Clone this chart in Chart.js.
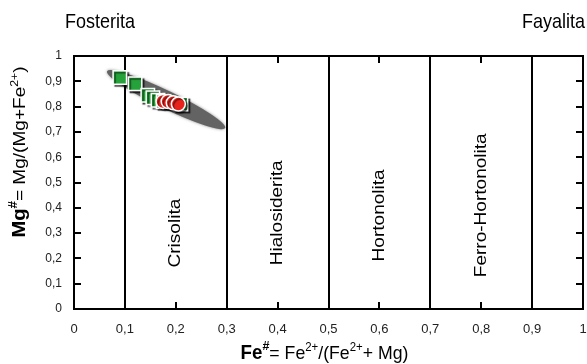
<!DOCTYPE html>
<html>
<head>
<meta charset="utf-8">
<script src="https://cdn.jsdelivr.net/npm/chart.js@4"></script>
<style>
  html, body { margin: 0; padding: 0; background: #fff; overflow: hidden; }
  #wrap { width: 587px; height: 364px; overflow: hidden; }
</style>
</head>
<body>
<!-- canvas is a little wider than the page so the plot box reaches the right edge
     and the last "1" is clipped, like the reference -->
<div id="wrap"><canvas id="c" width="594" height="364"></canvas></div>
<script>
// Olivine classification diagram: Mg# vs Fe#

const xTicks = [0, 0.1, 0.2, 0.3, 0.4, 0.5, 0.6, 0.7, 0.8, 0.9, 1];
const xTickLabels = ["0", "0,1", "0,2", "0,3", "0,4", "0,5", "0,6", "0,7", "0,8", "0,9", "1"];
const yTicks = [0, 0.1, 0.2, 0.3, 0.4, 0.5, 0.6, 0.7, 0.8, 0.9, 1];
const yTickLabels = ["0", "0,1", "0,2", "0,3", "0,4", "0,5", "0,6", "0,7", "0,8", "0,9", "1"];

// field boundaries (full-height vertical lines)
const boundaries = [0.1, 0.3, 0.5, 0.7, 0.9];
const zoneNames = ["Crisolita", "Hialosiderita", "Hortonolita", "Ferro-Hortonolita"];
const zoneX = [0.2, 0.4, 0.6, 0.8];
const zoneY = [0.3, 0.38, 0.37, 0.41];

// samples
const squareFe = [0.09, 0.12, 0.145, 0.155, 0.165, 0.175, 0.21];
const squareMg = [0.915, 0.89, 0.845, 0.835, 0.825, 0.82, 0.81];
const circleFe = [0.175, 0.185, 0.195, 0.205];
const circleMg = [0.82, 0.82, 0.815, 0.81];

// gray field ellipse: long-axis end points in data units
const ellipseStart = [0.065, 0.94];
const ellipseEnd = [0.297, 0.715];

const FONT = "'Liberation Sans', Arial, sans-serif";
const STRETCH = 1.12; // the original figure is slightly stretched vertically

function pts(xs, ys) { return xs.map((x, i) => ({ x, y: ys[i] })); }

// shadow behind markers
const markerShadow = {
  id: "markerShadow",
  beforeDatasetDraw(chart) {
    const ctx = chart.ctx;
    ctx.save();
    ctx.shadowColor = "rgba(0,0,0,0.5)";
    ctx.shadowOffsetX = 2;
    ctx.shadowOffsetY = 2;
    ctx.shadowBlur = 1;
  },
  afterDatasetDraw(chart) { chart.ctx.restore(); },
};

// frame: ellipse, field lines, inward ticks, box, zone names
const frame = {
  id: "frame",
  beforeDatasetsDraw(chart) {
    const { ctx, chartArea: a, scales: { x, y } } = chart;
    ctx.save();

    // ellipse
    const x1 = x.getPixelForValue(ellipseStart[0]), y1 = y.getPixelForValue(ellipseStart[1]);
    const x2 = x.getPixelForValue(ellipseEnd[0]), y2 = y.getPixelForValue(ellipseEnd[1]);
    const cx = (x1 + x2) / 2, cy = (y1 + y2) / 2;
    const rx = Math.hypot(x2 - x1, y2 - y1) / 2;
    const ang = Math.atan2(y2 - y1, x2 - x1);
    ctx.save();
    ctx.shadowColor = "rgba(90,90,90,0.7)";
    ctx.shadowBlur = 3;
    ctx.fillStyle = "#636363";
    ctx.beginPath();
    ctx.ellipse(cx, cy, rx, 9, ang, 0, Math.PI * 2);
    ctx.fill();
    ctx.restore();

    ctx.strokeStyle = "#000";
    ctx.lineWidth = 2;
    // field boundaries
    boundaries.forEach((b) => {
      const px = Math.round(x.getPixelForValue(b));
      ctx.beginPath();
      ctx.moveTo(px, a.top);
      ctx.lineTo(px, a.bottom);
      ctx.stroke();
    });
    // inward ticks
    const tl = 7;
    xTicks.forEach((v) => {
      const px = Math.round(x.getPixelForValue(v));
      ctx.beginPath();
      ctx.moveTo(px, a.bottom); ctx.lineTo(px, a.bottom - tl);
      ctx.moveTo(px, a.top); ctx.lineTo(px, a.top + tl);
      ctx.stroke();
    });
    yTicks.forEach((v) => {
      const py = Math.round(y.getPixelForValue(v));
      ctx.beginPath();
      ctx.moveTo(a.left, py); ctx.lineTo(a.left + tl, py);
      ctx.moveTo(a.right, py); ctx.lineTo(a.right - tl, py);
      ctx.stroke();
    });
    ctx.strokeRect(a.left, a.top, a.right - a.left, a.bottom - a.top);

    // zone names
    ctx.fillStyle = "#000";
    ctx.font = "17px " + FONT;
    ctx.textAlign = "center";
    ctx.textBaseline = "middle";
    zoneNames.forEach((n, i) => {
      ctx.save();
      ctx.translate(x.getPixelForValue(zoneX[i]), y.getPixelForValue(zoneY[i]));
      ctx.rotate(-Math.PI / 2);
      ctx.scale(STRETCH, 1);
      ctx.fillText(n, 0, 0);
      ctx.restore();
    });
    ctx.restore();
  },
  afterDraw(chart) {
    const { ctx, chartArea: a } = chart;
    ctx.save();
    ctx.fillStyle = "#000";
    ctx.textBaseline = "alphabetic";

    // end-member names
    ctx.font = "18px " + FONT;
    ctx.save();
    ctx.translate(0, 28);
    ctx.scale(1, STRETCH);
    ctx.textAlign = "left";
    ctx.fillText("Fosterita", 65, 0);
    ctx.textAlign = "right";
    ctx.fillText("Fayalita", 585, 0);
    ctx.restore();

    // rich text helper: [text, font, dy]
    const drawRuns = (runs, x0, y0) => {
      let w = 0;
      runs.forEach((r) => { ctx.font = r[1]; w += ctx.measureText(r[0]).width; });
      let cx = x0 - w / 2;
      ctx.textAlign = "left";
      runs.forEach((r) => {
        ctx.font = r[1];
        ctx.fillText(r[0], cx, y0 + r[2]);
        cx += ctx.measureText(r[0]).width;
      });
    };
    const big = "17px " + FONT, bold = "bold 18px " + FONT;
    const sup = "11px " + FONT, supB = "bold 12px " + FONT;

    ctx.save();
    ctx.translate((a.left + a.right) / 2 - 4, 359);
    ctx.scale(1.04, STRETCH);
    drawRuns([
      ["Fe", bold, 0], ["#", supB, -8], ["= Fe", big, 0], ["2+", sup, -7],
      ["/(Fe", big, 0], ["2+", sup, -7], ["+ Mg)", big, 0],
    ], 0, 0);
    ctx.restore();

    ctx.save();
    ctx.translate(25, 152);
    ctx.rotate(-Math.PI / 2);
    ctx.scale(STRETCH, 1);
    drawRuns([
      ["Mg", bold, 0], ["#", supB, -8], ["= Mg/(Mg+Fe", big, 0], ["2+", sup, -7], [")", big, 0],
    ], 0, 0);
    ctx.restore();
    ctx.restore();
  },
};

new Chart(document.getElementById("c"), {
  type: "scatter",
  data: {
    datasets: [
      {
        label: "circles", data: pts(circleFe, circleMg), pointStyle: "circle",
        pointRadius: 7, backgroundColor: "#e8231c", borderColor: "#ffffff", borderWidth: 1.5,
      },
      {
        label: "squares", data: pts(squareFe, squareMg), pointStyle: "rect",
        pointRadius: 9.5, backgroundColor: "#25a23a", borderColor: "#ffffff", borderWidth: 1.5,
      },
    ],
  },
  options: {
    responsive: false, animation: false,
    layout: { padding: { top: 56, right: 0, left: 0, bottom: 0 } },
    plugins: { legend: { display: false }, tooltip: { enabled: false } },
    scales: {
      x: {
        min: 0, max: 1,
        afterBuildTicks: (s) => { s.ticks = xTicks.map((v) => ({ value: v })); },
        afterFit: (s) => { s.height = 55; s.paddingLeft = 0; s.paddingRight = 0; },
        grid: { display: false, drawTicks: false }, border: { display: false },
        ticks: {
          padding: 13, color: "#222", font: { family: FONT, size: 13 },
          callback: (v) => xTickLabels[xTicks.indexOf(v)] ?? "",
          maxRotation: 0, autoSkip: false,
        },
      },
      y: {
        min: 0, max: 1,
        afterBuildTicks: (s) => { s.ticks = yTicks.map((v) => ({ value: v })); },
        afterFit: (s) => { s.width = 74; s.paddingTop = 0; s.paddingBottom = 0; },
        grid: { display: false, drawTicks: false }, border: { display: false },
        ticks: {
          padding: 12, color: "#222", font: { family: FONT, size: 12 },
          callback: (v) => yTickLabels[yTicks.indexOf(v)] ?? "",
          autoSkip: false,
        },
      },
    },
  },
  plugins: [frame, markerShadow],
});
</script>
</body>
</html>
